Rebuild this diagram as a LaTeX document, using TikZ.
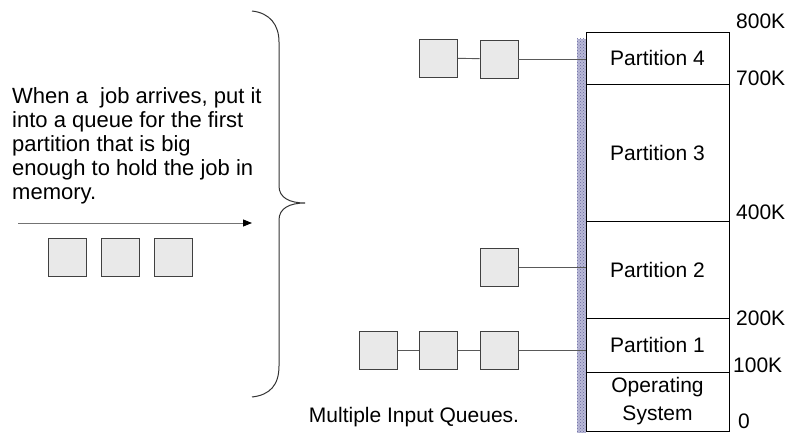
\documentclass[tikz,border=0pt]{standalone}
\usepackage{fontspec}
\setmainfont{Liberation Sans}
\usetikzlibrary{patterns,arrows.meta}
\definecolor{barbg}{RGB}{185,185,215}
\definecolor{bardot}{RGB}{105,105,160}
\definecolor{boxfill}{RGB}{233,233,233}
\begin{document}
\begin{tikzpicture}[x=1pt,y=-1pt, font=\fontsize{21}{24}\selectfont,
 qbox/.style={draw=black!75, fill=boxfill, minimum size=38pt, inner sep=0pt, line width=0.9pt},
 part/.style={draw=black, minimum width=143pt, inner sep=0pt, line width=0.8pt},
 link/.style={draw=black!65, line width=0.9pt},
 addr/.style={anchor=west, inner sep=0pt},
 bracestyle/.style={draw=black!80, line width=1pt}]
\useasboundingbox (0,0) rectangle (790,433);

% dotted bar
\fill[barbg] (577,39) rectangle (586,433);
\fill[pattern=crosshatch dots, pattern color=bardot] (577,39) rectangle (586,433);

% memory partitions
\node[part, minimum height=52pt]  (p4) at (657.5,58)    {Partition 4};
\node[part, minimum height=137pt] (p3) at (657.5,152.5) {Partition 3};
\node[part, minimum height=97pt]  (p2) at (657.5,269.5) {Partition 2};
\node[part, minimum height=54pt]  (p1) at (657.5,345)   {Partition 1};
\node[part, minimum height=59pt, align=center, font=\fontsize{21}{28}\selectfont] (os) at (657.5,401.5) {Operating\\System};

% address labels
\node[addr] (a800) at (736,21)  {800K};
\node[addr] (a700) at (736,78)  {700K};
\node[addr] (a400) at (736,212) {400K};
\node[addr] (a200) at (736,318) {200K};
\node[addr] (a100) at (733,365) {100K};
\node[addr] (a0)   at (738,421) {0};

% queue for partition 4
\node[qbox] (q4a) at (438.5,58) {};
\node[qbox] (q4b) at (499,59) {};
\draw[link] (q4a) -- (q4b);
\draw[link] (q4b) -- (p4.west |- q4b);

% queue for partition 2
\node[qbox] (q2a) at (499.5,267.5) {};
\draw[link] (q2a) -- (p2.west |- q2a);

% queue for partition 1
\node[qbox] (q1a) at (378.5,350.5) {};
\node[qbox] (q1b) at (438.5,350.5) {};
\node[qbox] (q1c) at (499.5,350.5) {};
\draw[link] (q1a) -- (q1b);
\draw[link] (q1b) -- (q1c);
\draw[link] (q1c) -- (p1.west |- q1c);

% description
\node[anchor=north west, align=left, inner sep=0pt, font=\fontsize{22}{24}\selectfont] (desc) at (12,87)
 {When a\ \ job arrives, put it\\into a queue for the first\\partition that is big\\enough to hold the job in\\memory.};

% incoming arrow
\coordinate (as) at (18,223);
\coordinate (ae) at (252,223);
\draw[draw=black!55, line width=0.8pt, -{Triangle[black, length=9pt, width=7pt]}] (as) -- (ae);

% incoming jobs
\node[qbox] (j1) at (67.5,257.5) {};
\node[qbox] (j2) at (120,257.5) {};
\node[qbox] (j3) at (173,257.5) {};

% brace
\draw[bracestyle] (252,11) .. controls (270,13) and (279,25) .. (279,42)
  -- (279,186) .. controls (279,198) and (290,203) .. (305,203)
  .. controls (290,203) and (279,208) .. (279,220)
  -- (279,366) .. controls (279,385) and (270,395) .. (252,397);

% caption
\node (cap) at (414,417) {Multiple Input Queues.};
\end{tikzpicture}
\end{document}
